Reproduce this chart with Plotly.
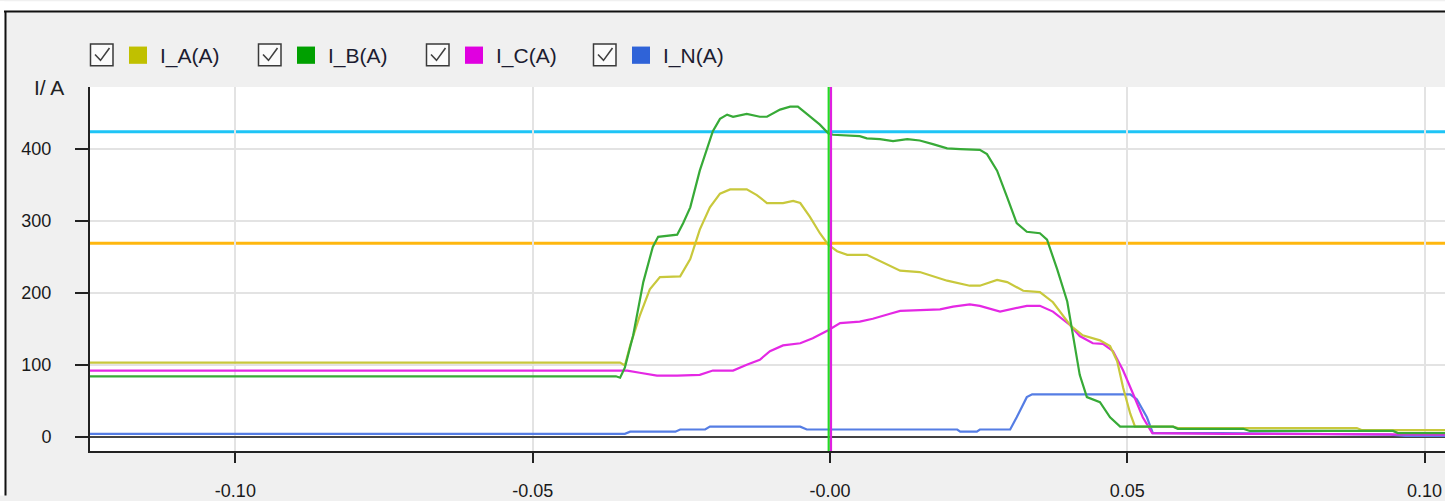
import plotly.graph_objects as go

# ---------------- data ----------------
SERIES_NAMES = ["I_A(A)", "I_B(A)", "I_C(A)", "I_N(A)"]

t_A = [-0.1245, -0.0353, -0.0345, -0.0336, -0.0320, -0.0303, -0.0286, -0.0252, -0.0235, -0.0219,
       -0.0202, -0.0185, -0.0168, -0.0140, -0.0123, -0.0106, -0.0079, -0.0062, -0.0050, -0.0034,
       -0.0017, -0.0003, 0.0012, 0.0029, 0.0062, 0.0089, 0.0118, 0.0151, 0.0197, 0.0235,
       0.0252, 0.0281, 0.0298, 0.0325, 0.0353, 0.0375, 0.0404, 0.0425, 0.0454, 0.0471,
       0.0483, 0.0493, 0.0505, 0.0513, 0.0577, 0.0585, 0.0886, 0.0895, 0.1040]
v_A = [103, 103, 99, 127, 168, 205, 222, 223, 247, 288,
       319, 338, 344, 344, 336, 325, 325, 328, 325, 306,
       283, 267, 258, 253, 253, 242, 231, 229, 217, 210,
       210, 218, 215, 203, 201, 187, 155, 141, 134, 126,
       105, 68, 32, 14, 14, 12, 12, 9, 9]

t_B = [-0.1245, -0.0360, -0.0353, -0.0345, -0.0331, -0.0314, -0.0298, -0.0289, -0.0257, -0.0247,
       -0.0235, -0.0219, -0.0197, -0.0185, -0.0173, -0.0163, -0.0140, -0.0118, -0.0106, -0.0084,
       -0.0067, -0.0054, -0.0039, -0.0017, -0.0003, 0.0005, 0.0050, 0.0062, 0.0084, 0.0106,
       0.0130, 0.0151, 0.0173, 0.0197, 0.0219, 0.0252, 0.0264, 0.0281, 0.0298, 0.0314,
       0.0331, 0.0353, 0.0365, 0.0382, 0.0399, 0.0409, 0.0420, 0.0432, 0.0454, 0.0471,
       0.0488, 0.0577, 0.0585, 0.0695, 0.0706, 0.0947, 0.0955, 0.1040]
v_B = [84, 84, 82, 96, 141, 215, 264, 278, 281, 297,
       319, 370, 425, 442, 448, 445, 449, 445, 445, 455,
       459, 459, 449, 434, 422, 420, 418, 415, 414, 411,
       414, 412, 407, 401, 400, 399, 393, 370, 333, 297,
       285, 283, 274, 233, 188, 137, 86, 55, 48, 27,
       14, 14, 11, 11, 8, 8, 5, 5]

t_C = [-0.1245, -0.0341, -0.0320, -0.0291, -0.0257, -0.0219, -0.0197, -0.0163, -0.0140, -0.0118,
       -0.0101, -0.0079, -0.0050, -0.0029, -0.0003, 0.0017, 0.0050, 0.0072, 0.0101, 0.0118,
       0.0185, 0.0207, 0.0235, 0.0252, 0.0286, 0.0308, 0.0331, 0.0353, 0.0375, 0.0404,
       0.0420, 0.0442, 0.0459, 0.0476, 0.0493, 0.0510, 0.0526, 0.0542, 0.0656, 0.0664, 0.1040]
v_C = [92, 92, 89, 85, 85, 86, 92, 92, 100, 107,
       119, 127, 130, 137, 148, 158, 160, 164, 171, 175,
       177, 181, 184, 182, 174, 178, 182, 182, 174, 155,
       140, 130, 129, 119, 92, 59, 27, 5, 5, 4, 3]

t_N = [-0.1245, -0.0345, -0.0336, -0.0260, -0.0252, -0.0210, -0.0202, -0.0050, -0.0039, 0.0214,
       0.0219, 0.0247, 0.0252, 0.0303, 0.0314, 0.0331, 0.0340, 0.0505, 0.0516, 0.0533,
       0.0543, 0.0656, 0.0942, 0.0967, 0.1040]
v_N = [4, 4, 7, 7, 10, 10, 14, 14, 10, 10,
       7, 7, 10, 10, 27, 55, 59, 59, 52, 27,
       5, 5, 3, 1, 1]

THRESHOLDS = [424, 269]          # horizontal limit lines
CURSOR_T = [0.0]                 # vertical cursor position

X_TICKS = [-0.10, -0.05, 0.0, 0.05, 0.10]
X_TICK_TEXT = ["-0.10", "-0.05", "-0.00", "0.05", "0.10"]
Y_TICKS = [0, 100, 200, 300, 400]
Y_TICK_TEXT = ["0", "100", "200", "300", "400"]
Y_TITLE = "I/ A"

# ---------------- style / layout ----------------
W, H = 1445, 501
ML, MR, MT, MB = 90, 0, 87, 45
PW, PH = W - ML - MR, H - MT - MB
X_RANGE = [-0.12445, 0.10343]
Y_RANGE = [-19.9, 486.4]
FONT = "Liberation Sans, Arial, sans-serif"

LINE_COLORS = ["rgb(200,200,60)", "rgb(55,170,55)", "rgb(228,40,228)", "rgb(85,125,228)"]
LEGEND_COLORS = ["#c0c000", "#00a000", "#e000e0", "#2f63d8"]
THRESH_COLORS = ["#1ec4f6", "#ffb70f"]


def px_x(px):
    return (px - ML) / PW


def px_y(py):
    return (H - MB - py) / PH


fig = go.Figure()

series = [(t_A, v_A), (t_B, v_B), (t_C, v_C), (t_N, v_N)]
draw_order = [3, 2, 0, 1]
for i in draw_order:
    t, v = series[i]
    fig.add_trace(go.Scatter(x=t, y=v, mode="lines", name=SERIES_NAMES[i],
                             line=dict(color=LINE_COLORS[i], width=2.2),
                             showlegend=False, hoverinfo="skip"))

shapes = []
# threshold lines
for val, col in zip(THRESHOLDS, THRESH_COLORS):
    shapes.append(dict(type="line", xref="paper", yref="y", x0=0, x1=1, y0=val, y1=val,
                       line=dict(color=col, width=3), layer="between"))

# cursor (green + magenta pair)
unit_per_px = (X_RANGE[1] - X_RANGE[0]) / PW
for off, col in [(-1.3, "#22dd22"), (1.0, "#e020e0")]:
    xc = CURSOR_T[0] + off * unit_per_px
    shapes.append(dict(type="line", xref="x", yref="paper", x0=xc, x1=xc, y0=0, y1=1,
                       line=dict(color=col, width=2.2), layer="above"))

# outer frame
shapes.append(dict(type="rect", xref="paper", yref="paper", x0=px_x(0), x1=px_x(W), y0=px_y(0), y1=px_y(9.5),
                   fillcolor="white", line=dict(width=0), layer="above"))
shapes.append(dict(type="rect", xref="paper", yref="paper", x0=px_x(0), x1=px_x(4.5), y0=px_y(0), y1=px_y(H),
                   fillcolor="white", line=dict(width=0), layer="above"))
shapes.append(dict(type="line", xref="paper", yref="paper", x0=px_x(4), x1=px_x(W), y0=px_y(10.5), y1=px_y(10.5),
                   line=dict(color="#111", width=2), layer="above"))
shapes.append(dict(type="line", xref="paper", yref="paper", x0=px_x(5.5), x1=px_x(5.5), y0=px_y(10), y1=px_y(H),
                   line=dict(color="#111", width=2), layer="above"))

annotations = []
# custom legend with checkboxes
LEG_X0 = [90, 258, 426, 593]
for i, name in enumerate(SERIES_NAMES):
    bx = LEG_X0[i]
    shapes.append(dict(type="rect", xref="paper", yref="paper",
                       x0=px_x(bx + 0.5), x1=px_x(bx + 23), y0=px_y(43.5), y1=px_y(65.5),
                       fillcolor="#fbfbfb", line=dict(color="#3a3a3a", width=1.5), layer="above"))
    path = "M {:.5f},{:.5f} L {:.5f},{:.5f} L {:.5f},{:.5f}".format(
        px_x(bx + 5), px_y(54), px_x(bx + 10.5), px_y(60), px_x(bx + 19.5), px_y(47.5))
    shapes.append(dict(type="path", xref="paper", yref="paper", path=path,
                       line=dict(color="#404040", width=1.6), layer="above"))
    shapes.append(dict(type="rect", xref="paper", yref="paper",
                       x0=px_x(bx + 39), x1=px_x(bx + 57), y0=px_y(46), y1=px_y(63.5),
                       fillcolor=LEGEND_COLORS[i], line=dict(width=0), layer="above"))
    annotations.append(dict(text=name, xref="paper", yref="paper", x=px_x(bx + 68), y=px_y(55.5),
                            xanchor="left", yanchor="middle", showarrow=False,
                            font=dict(family=FONT, size=21, color="#1c1c30")))

# y-axis title
annotations.append(dict(text=Y_TITLE, xref="paper", yref="paper", x=px_x(49), y=px_y(88),
                        xanchor="center", yanchor="middle", showarrow=False,
                        font=dict(family=FONT, size=21, color="#222")))

fig.update_layout(
    width=W, height=H,
    margin=dict(l=ML, r=MR, t=MT, b=MB, pad=0),
    paper_bgcolor="#f0f0f0", plot_bgcolor="white",
    showlegend=False,
    shapes=shapes, annotations=annotations,
    font=dict(family=FONT, size=18, color="#222"),
)
fig.update_xaxes(range=X_RANGE, tickvals=X_TICKS, ticktext=X_TICK_TEXT,
                 showgrid=True, gridcolor="#e3e3e3", gridwidth=1.5, zeroline=False,
                 showline=True, linecolor="#222", linewidth=2, mirror=False,
                 ticks="outside", ticklen=10, tickwidth=2, tickcolor="#222",
                 tickfont=dict(family=FONT, size=18, color="#1a1a1a"), ticklabelstandoff=12)
fig.update_yaxes(range=Y_RANGE, tickvals=Y_TICKS, ticktext=Y_TICK_TEXT,
                 showgrid=True, gridcolor="#e3e3e3", gridwidth=1.5,
                 zeroline=True, zerolinecolor="#444", zerolinewidth=2,
                 showline=True, linecolor="#222", linewidth=2, mirror=False,
                 ticks="outside", ticklen=13, tickwidth=2, tickcolor="#222",
                 tickfont=dict(family=FONT, size=18, color="#1a1a1a"), ticklabelstandoff=20)

fig.write_html("out.html", config={"displayModeBar": False},
               post_script="document.body.style.margin='0';document.body.style.overflow='hidden';")
